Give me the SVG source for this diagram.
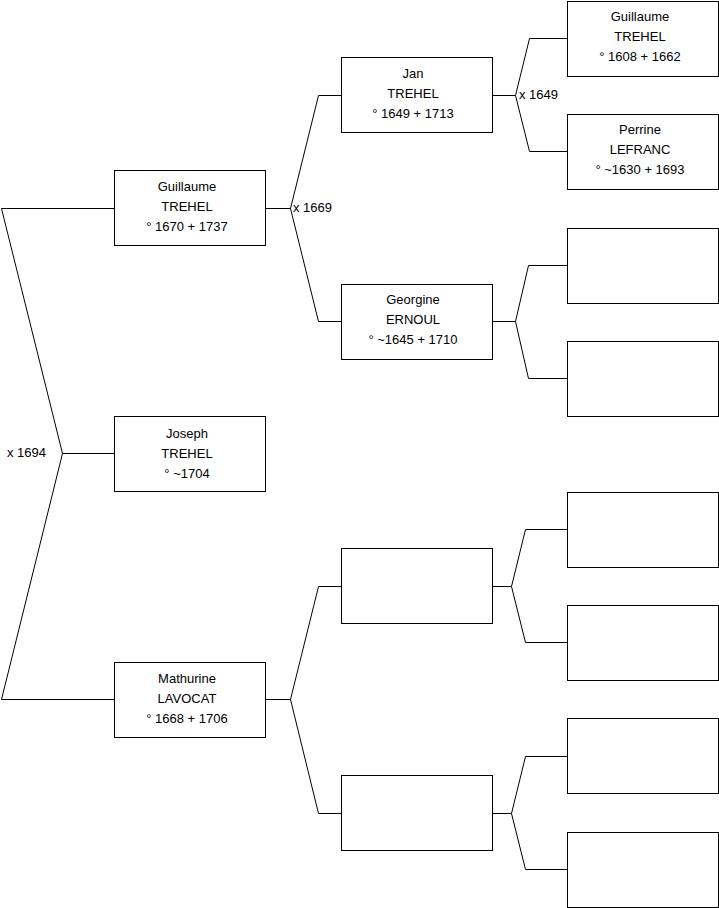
<svg xmlns="http://www.w3.org/2000/svg" width="719" height="908" viewBox="0 0 719 908">
<style>
.box{fill:#fff;stroke:#000;stroke-width:1}
.ln{fill:none;stroke:#000;stroke-width:1}
text{font-family:"Liberation Sans",Arial,sans-serif;font-size:13px;fill:#000}
.c{text-anchor:middle}
</style>
<rect width="719" height="908" fill="#fff"/>
<g id="connectors">
<polyline class="ln" points="114.5,208.5 1.5,208.5 62.5,453.5 1.5,699.5 114.5,699.5"/>
<line class="ln" x1="62.5" y1="453.5" x2="114.5" y2="453.5"/>
<polyline class="ln" points="341.5,95.5 318.5,95.5 290.5,208.5 318.5,321.5 341.5,321.5"/>
<line class="ln" x1="265.5" y1="208.5" x2="290.5" y2="208.5"/>
<polyline class="ln" points="341.5,586.5 318.5,586.5 290.5,699.5 318.5,813.5 341.5,813.5"/>
<line class="ln" x1="265.5" y1="699.5" x2="290.5" y2="699.5"/>
<polyline class="ln" points="567.5,38.5 529.5,38.5 515.5,95.5 529.5,151.5 567.5,151.5"/>
<line class="ln" x1="492.5" y1="95.5" x2="515.5" y2="95.5"/>
<polyline class="ln" points="567.5,265.5 528.5,265.5 515.5,321.5 528.5,378.5 567.5,378.5"/>
<line class="ln" x1="492.5" y1="321.5" x2="515.5" y2="321.5"/>
<polyline class="ln" points="567.5,529.5 525.5,529.5 511.5,586.5 525.5,642.5 567.5,642.5"/>
<line class="ln" x1="492.5" y1="586.5" x2="511.5" y2="586.5"/>
<polyline class="ln" points="567.5,756.5 525.5,756.5 511.5,813.5 525.5,869.5 567.5,869.5"/>
<line class="ln" x1="492.5" y1="813.5" x2="511.5" y2="813.5"/>
<text x="7" y="457">x 1694</text>
<text x="293" y="212">x 1669</text>
<text x="519" y="99">x 1649</text>
</g>
<g id="n-joseph"><rect class="box" x="114.5" y="416.5" width="151" height="75"/>
<text class="c" x="187" y="438">Joseph</text><text class="c" x="187" y="458">TREHEL</text><text class="c" x="187" y="478">° ~1704</text></g>
<g id="n-guillaume1670"><rect class="box" x="114.5" y="170.5" width="151" height="75"/>
<text class="c" x="187" y="191">Guillaume</text><text class="c" x="187" y="211">TREHEL</text><text class="c" x="187" y="231">° 1670 + 1737</text></g>
<g id="n-mathurine"><rect class="box" x="114.5" y="662.5" width="151" height="75"/>
<text class="c" x="187" y="683">Mathurine</text><text class="c" x="187" y="703">LAVOCAT</text><text class="c" x="187" y="723">° 1668 + 1706</text></g>
<g id="n-jan"><rect class="box" x="341.5" y="57.5" width="151" height="75"/>
<text class="c" x="413" y="78">Jan</text><text class="c" x="413" y="98">TREHEL</text><text class="c" x="413" y="118">° 1649 + 1713</text></g>
<g id="n-georgine"><rect class="box" x="341.5" y="284.5" width="151" height="75"/>
<text class="c" x="413" y="304">Georgine</text><text class="c" x="413" y="324">ERNOUL</text><text class="c" x="413" y="344">° ~1645 + 1710</text></g>
<g id="n-g2c"><rect class="box" x="341.5" y="548.5" width="151" height="75"/></g>
<g id="n-g2d"><rect class="box" x="341.5" y="775.5" width="151" height="75"/></g>
<g id="n-guillaume1608"><rect class="box" x="567.5" y="1.5" width="151" height="75"/>
<text class="c" x="640" y="21">Guillaume</text><text class="c" x="640" y="41">TREHEL</text><text class="c" x="640" y="61">° 1608 + 1662</text></g>
<g id="n-perrine"><rect class="box" x="567.5" y="114.5" width="151" height="75"/>
<text class="c" x="640" y="134">Perrine</text><text class="c" x="640" y="154">LEFRANC</text><text class="c" x="640" y="174">° ~1630 + 1693</text></g>
<g id="n-g3c"><rect class="box" x="567.5" y="228.5" width="151" height="75"/></g>
<g id="n-g3d"><rect class="box" x="567.5" y="341.5" width="151" height="75"/></g>
<g id="n-g3e"><rect class="box" x="567.5" y="492.5" width="151" height="75"/></g>
<g id="n-g3f"><rect class="box" x="567.5" y="605.5" width="151" height="75"/></g>
<g id="n-g3g"><rect class="box" x="567.5" y="718.5" width="151" height="75"/></g>
<g id="n-g3h"><rect class="box" x="567.5" y="832.5" width="151" height="75"/></g>
</svg>
